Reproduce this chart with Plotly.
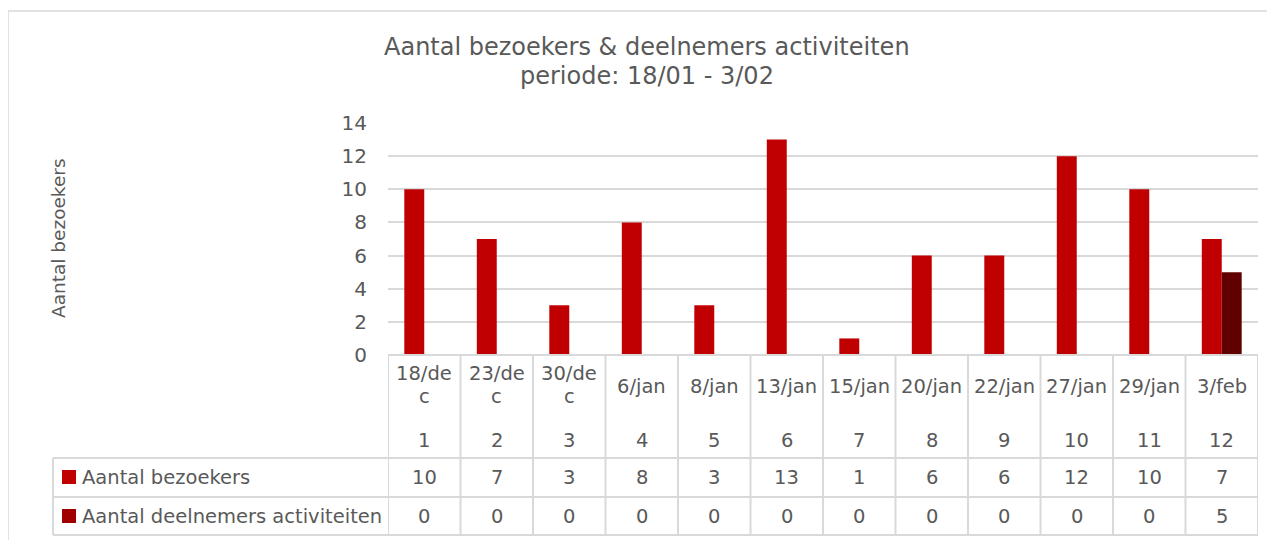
import plotly.graph_objects as go

# ---- data ----
dates = ["18/dec", "23/dec", "30/dec", "6/jan", "8/jan", "13/jan", "15/jan",
         "20/jan", "22/jan", "27/jan", "29/jan", "3/feb"]
week_nums = [1, 2, 3, 4, 5, 6, 7, 8, 9, 10, 11, 12]
bezoekers = [10, 7, 3, 8, 3, 13, 1, 6, 6, 12, 10, 7]
deelnemers = [0, 0, 0, 0, 0, 0, 0, 0, 0, 0, 0, 5]
series_names = ["Aantal bezoekers", "Aantal deelnemers activiteiten"]
title_lines = ["Aantal bezoekers & deelnemers activiteiten", "periode: 18/01 - 3/02"]
y_title = "Aantal bezoekers"

# ---- style ----
OFF = 8  # page body margin in the browser
W, H = 1275 - OFF, 540 - OFF
L, R, T, B = 388 - OFF, 1258 - OFF, 123 - OFF, 355 - OFF   # plot area in pixels
FONT = "DejaVu Sans"
TXT = "#595959"
GRID = "#D9D9D9"
C1 = "#C00000"
C2 = "#600000"
C2_KEY = "#A00000"

def px(x):
    return (x - OFF - L) / (R - L)

def py(y):
    return (B - (y - OFF)) / (B - T)

n = len(dates)
xs = list(range(n))

fig = go.Figure()
fig.add_trace(go.Bar(x=xs, y=bezoekers, name=series_names[0], marker_color=C1,
                     marker_line_width=0))
fig.add_trace(go.Bar(x=xs, y=deelnemers, name=series_names[1], marker_color=C2,
                     marker_line_width=0))

shapes = []
annotations = []

# chart border
shapes.append(dict(type="rect", xref="paper", yref="paper",
                   x0=px(8), x1=px(1300), y0=py(570), y1=py(11),
                   line=dict(color=GRID, width=1.5), fillcolor="rgba(0,0,0,0)", layer="below"))

# table horizontal lines
shapes.append(dict(type="line", xref="paper", yref="paper", x0=0, x1=1, y0=0, y1=0,
                   line=dict(color=GRID, width=2)))
for yy in (458, 497, 535):
    shapes.append(dict(type="line", xref="paper", yref="paper", x0=px(53), x1=1,
                       y0=py(yy), y1=py(yy), line=dict(color=GRID, width=2)))
# table vertical lines
for k in range(n + 1):
    shapes.append(dict(type="line", xref="x", yref="paper", x0=k - 0.5, x1=k - 0.5,
                       y0=0, y1=py(535), line=dict(color=GRID, width=2)))
shapes.append(dict(type="line", xref="paper", yref="paper", x0=px(53), x1=px(53),
                   y0=py(458), y1=py(535), line=dict(color=GRID, width=2)))

tfont = dict(family=FONT, size=19.5, color=TXT)

# header cells
for i, d in enumerate(dates):
    if d.endswith("dec"):
        parts = [d[:5], d[5:]]
        for j, p in enumerate(parts):
            annotations.append(dict(x=i, xref="x", y=py(373 + 23 * j), yref="paper",
                                    text=p, showarrow=False, font=tfont,
                                    xanchor="center", yanchor="middle"))
    else:
        annotations.append(dict(x=i, xref="x", y=py(386), yref="paper", text=d,
                                showarrow=False, font=tfont, xanchor="center",
                                yanchor="middle"))
    annotations.append(dict(x=i, xref="x", y=py(440), yref="paper", text=str(week_nums[i]),
                            showarrow=False, font=tfont, xanchor="center", yanchor="middle"))
    annotations.append(dict(x=i, xref="x", y=py(477), yref="paper", text=str(bezoekers[i]),
                            showarrow=False, font=tfont, xanchor="center", yanchor="middle"))
    annotations.append(dict(x=i, xref="x", y=py(516), yref="paper", text=str(deelnemers[i]),
                            showarrow=False, font=tfont, xanchor="center", yanchor="middle"))

# legend keys in table
for (yc, col, name) in ((477, C1, series_names[0]), (516, C2_KEY, series_names[1])):
    shapes.append(dict(type="rect", xref="paper", yref="paper",
                       x0=px(62), x1=px(76), y0=py(yc + 7), y1=py(yc - 7),
                       fillcolor=col, line=dict(width=0)))
    annotations.append(dict(x=px(80), xref="paper", y=py(yc), yref="paper", text=name,
                            showarrow=False, font=tfont, xanchor="left", yanchor="middle"))

# title
for k, yy in enumerate((47, 76)):
    annotations.append(dict(x=px(647), xref="paper", y=py(yy), yref="paper",
                            text=title_lines[k], showarrow=False,
                            font=dict(family=FONT, size=24, color=TXT),
                            xanchor="center", yanchor="middle"))

# y-axis title
annotations.append(dict(x=px(58), xref="paper", y=py(238), yref="paper", text=y_title,
                        textangle=-90, showarrow=False,
                        font=dict(family=FONT, size=18.5, color=TXT),
                        xanchor="center", yanchor="middle"))

fig.update_layout(
    width=W, height=H,
    margin=dict(l=L, r=W - R, t=T, b=H - B, pad=0),
    paper_bgcolor="white", plot_bgcolor="white",
    barmode="group", bargap=0.45, bargroupgap=0,
    showlegend=False,
    shapes=shapes, annotations=annotations,
    xaxis=dict(range=[-0.5, n - 0.5], showticklabels=False, showgrid=False,
               zeroline=False, showline=False, fixedrange=True),
    yaxis=dict(range=[0, 14], dtick=2, showgrid=True, gridcolor=GRID, gridwidth=2,
               zeroline=False, showline=False, ticks="",
               tickfont=dict(family=FONT, size=20, color=TXT),
               ticklabelstandoff=20, fixedrange=True),
)

fig.write_html("out.html")
